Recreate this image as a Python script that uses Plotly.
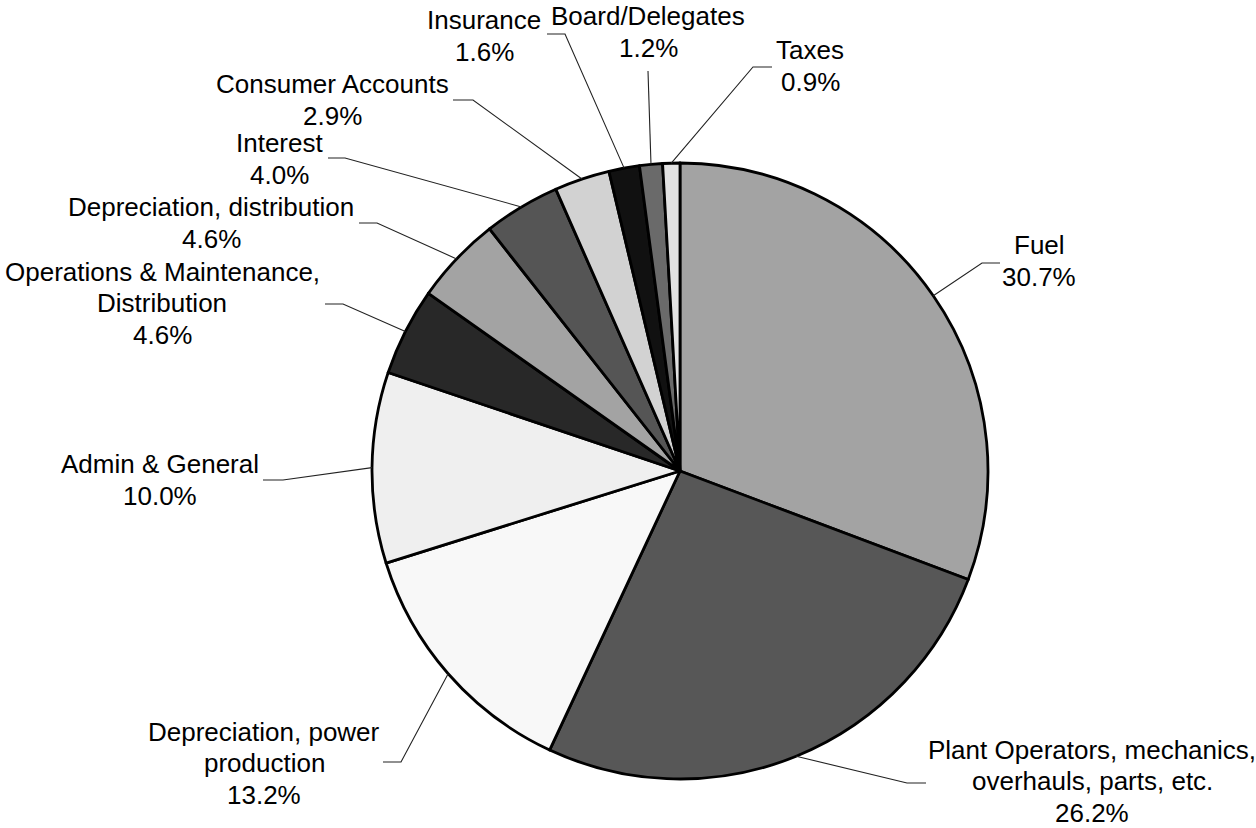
import math
import plotly.graph_objects as go

# Cost breakdown (share of total, %)
categories = [
    "Fuel",
    "Plant Operators, mechanics, overhauls, parts, etc.",
    "Depreciation, power production",
    "Admin & General",
    "Operations & Maintenance, Distribution",
    "Depreciation, distribution",
    "Interest",
    "Consumer Accounts",
    "Insurance",
    "Board/Delegates",
    "Taxes",
]
shares = [30.7, 26.2, 13.2, 10.0, 4.6, 4.6, 4.0, 2.9, 1.6, 1.2, 0.9]

# How each category name is broken over lines in its label
label_lines = [
    ["Fuel"],
    ["Plant Operators, mechanics,", "overhauls, parts, etc."],
    ["Depreciation, power", "production"],
    ["Admin & General"],
    ["Operations & Maintenance,", "Distribution"],
    ["Depreciation, distribution"],
    ["Interest"],
    ["Consumer Accounts"],
    ["Insurance"],
    ["Board/Delegates"],
    ["Taxes"],
]

slice_colors = ["#a3a3a3", "#575757", "#f8f8f8", "#efefef", "#282828", "#a3a3a3",
                "#555555", "#d2d2d2", "#111111", "#6a6a6a", "#e2e2e2"]

# ---- layout (pixels) ----
W, H = 1256, 828
CX, CY, R = 680, 471, 308
FONT_SIZE = 26
LINE_STEP = 31.5

# label block centre (x, y), leader elbow (x, y) and end x of the horizontal tail
label_pos = [
    (1039, 261), (1092, 781), (264, 763), (160, 480), (162, 303), (211, 223),
    (279, 159), (332, 100), (484, 36), (648, 32), (810, 66),
]
elbows = [
    (982, 263), (907, 783), (401, 762), (283, 480), (343, 304), (377, 223),
    (345, 158), (473, 100), (565, 34), (648, 71), (753, 67),
]
tail_ends = [1000, 926, 383, 263, 325, 359, 328, 453, 547, 648, 772]


def px(x):
    return x / W


def py(y):
    return 1 - y / H


fig = go.Figure()
fig.add_trace(go.Pie(
    labels=categories,
    values=shares,
    sort=False,
    direction="clockwise",
    rotation=0,
    textinfo="none",
    hoverinfo="label+percent",
    showlegend=False,
    marker=dict(colors=slice_colors, line=dict(color="black", width=2.8)),
    domain=dict(x=[px(CX - R), px(CX + R)], y=[py(CY + R), py(CY - R)]),
))

total = sum(shares)
shapes = []
annotations = []
cum = 0.0
for i, v in enumerate(shares):
    theta = 2 * math.pi * (cum + v / 2) / total
    cum += v
    sx = CX + R * math.sin(theta)
    sy = CY - R * math.cos(theta)
    ex, ey = elbows[i]
    tx = tail_ends[i]
    path = f"M {px(sx)},{py(sy)} L {px(ex)},{py(ey)} L {px(tx)},{py(ey)}"
    shapes.append(dict(type="path", xref="paper", yref="paper", path=path,
                       line=dict(color="#222222", width=1.1)))

    lines = label_lines[i] + [f"{v:.1f}%"]
    lx, ly = label_pos[i]
    n = len(lines)
    for k, txt in enumerate(lines):
        y = ly + (k - (n - 1) / 2) * LINE_STEP
        annotations.append(dict(
            x=px(lx), y=py(y), xref="paper", yref="paper",
            text=txt, showarrow=False, xanchor="center", yanchor="middle",
            font=dict(family="Liberation Sans, Arial, sans-serif", size=FONT_SIZE, color="black"),
        ))

fig.update_layout(
    width=W, height=H,
    margin=dict(l=0, r=0, t=0, b=0),
    paper_bgcolor="white",
    plot_bgcolor="white",
    shapes=shapes,
    annotations=annotations,
)

fig.write_html("out.html")
